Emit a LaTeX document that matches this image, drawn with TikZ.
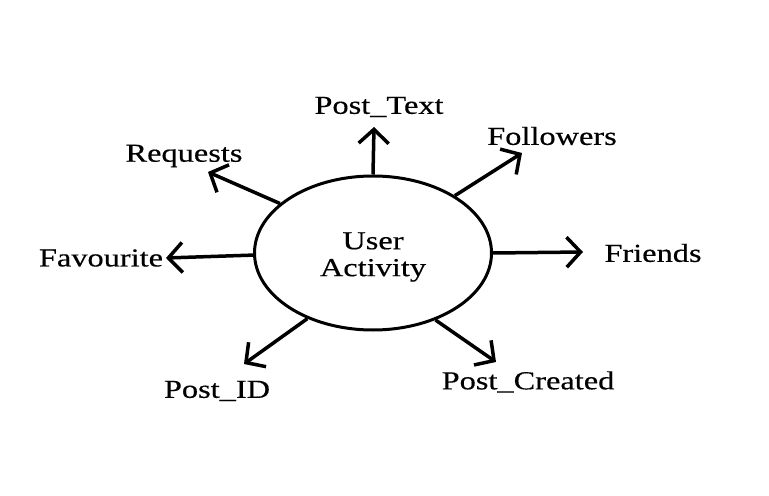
\documentclass[tikz,border=0pt]{standalone}
\usepackage{fontspec}
\setmainfont{Liberation Serif}[FakeStretch=1.25,FakeBold=0.4]
\usetikzlibrary{arrows.meta,shapes.geometric}
\begin{document}
\begin{tikzpicture}[x=1bp,y=-1bp,
  lbl/.style={inner sep=0pt,font=\fontsize{26}{27}\selectfont},
  arr/.style={line width=3.5bp,-{Straight Barb[length=14bp,width=30bp]}}]
\useasboundingbox (0,0) rectangle (769,496);

% centre
\node[draw,ellipse,line width=3bp,minimum width=237bp,minimum height=154bp,
  inner sep=0pt] (act) at (373,253) {};
\node[lbl,align=center] (actlbl) at (373,257) {User\\Activity};

% attributes
\node[lbl] (ptext) at (379,107) {Post\_Text};
\node[lbl] (follow) at (552,136) {Followers};
\node[lbl] (req) at (184,156) {Requests};
\node[lbl] (fav) at (101,258) {Favourite};
\node[lbl] (friend) at (653,253) {Friends};
\node[lbl] (pid) at (217,391) {Post\_ID};
\node[lbl] (pcreat) at (528,382) {Post\_Created};

% arrow ends
\coordinate (ptext-tip) at (374,127);
\coordinate (follow-tip) at (522,153);
\coordinate (req-tip) at (208,172);
\coordinate (fav-tip) at (166,258);
\coordinate (friend-tip) at (583,252);
\coordinate (pid-tip) at (244,364);
\coordinate (pcreat-tip) at (496,362);

\draw[arr] (act.90) -- (ptext-tip);
\draw[arr] (act.35) -- (follow-tip);
\draw[arr] (act.152) -- (req-tip);
\draw[arr] (act.181) -- (fav-tip);
\draw[arr] (act.0) -- (friend-tip);
\draw[arr] (act.225) -- (pid-tip);
\draw[arr] (act.313) -- (pcreat-tip);
\end{tikzpicture}
\end{document}
